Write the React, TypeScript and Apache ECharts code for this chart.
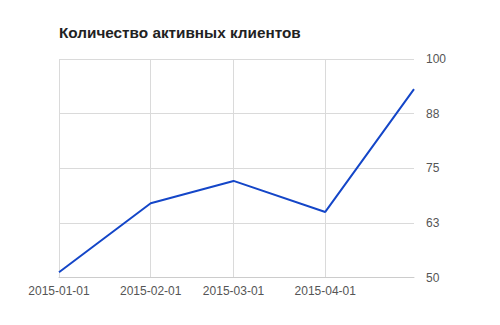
import React, { useEffect, useRef } from "react";
import * as echarts from "echarts";

const dates = ["2015-01-01", "2015-02-01", "2015-03-01", "2015-04-01", "2015-05-01"];
const values = [51.2, 67, 72.1, 65, 93.1];
const tickDates = ["2015-01-01", "2015-02-01", "2015-03-01", "2015-04-01"];
const yTicks = [50, 62.5, 75, 87.5, 100];
const title = "Количество активных клиентов";

export default function App() {
  const ref = useRef<HTMLDivElement>(null);
  useEffect(() => {
    if (!ref.current) return;
    const chart = echarts.init(ref.current, undefined, { renderer: "svg" });
    const ts = (d: string) => new Date(d + "T00:00:00").getTime();
    const tickTs = tickDates.map(ts);
    const pad = (n: number) => (n < 10 ? "0" + n : "" + n);
    chart.setOption({
      animation: false,
      title: {
        text: title,
        left: 59,
        top: 25,
        padding: 0,
        textStyle: {
          fontFamily: "Liberation Sans, Arial, sans-serif",
          fontSize: 15.3,
          fontWeight: "bold",
          color: "#222",
        },
      },
      grid: { left: 59, right: 86, top: 59, bottom: 47.5, containLabel: false },
      xAxis: {
        type: "value",
        min: ts(dates[0]),
        max: ts(dates[dates.length - 1]),
        axisLine: { show: true, lineStyle: { color: "#ccc" } },
        axisTick: { show: false, customValues: tickTs },
        splitLine: { show: true, lineStyle: { color: "#dadada", width: 1 } },
        axisLabel: {
          customValues: tickTs,
          margin: 7,
          color: "#555",
          fontSize: 12,
          fontFamily: "Liberation Sans, Arial, sans-serif",
          formatter: (v: number) => {
            const d = new Date(v);
            return d.getFullYear() + "-" + pad(d.getMonth() + 1) + "-" + pad(d.getDate());
          },
        },
      },
      yAxis: {
        type: "value",
        position: "right",
        min: yTicks[0],
        max: yTicks[yTicks.length - 1],
        interval: yTicks[1] - yTicks[0],
        axisLine: { show: false },
        axisTick: { show: false },
        splitLine: { show: true, lineStyle: { color: "#dadada", width: 1 } },
        axisLabel: {
          margin: 12,
          color: "#555",
          fontSize: 12,
          fontFamily: "Liberation Sans, Arial, sans-serif",
          formatter: (v: number) => String(Math.round(v)),
        },
      },
      series: [
        {
          type: "line",
          data: dates.map((d, i) => [ts(d), values[i]]),
          showSymbol: false,
          lineStyle: { color: "#1446c8", width: 2 },
          itemStyle: { color: "#1446c8" },
        },
      ],
    });
    return () => chart.dispose();
  }, []);
  return <div ref={ref} style={{ width: 500, height: 325, position: "absolute", left: 0, top: 0 }} />;
}
